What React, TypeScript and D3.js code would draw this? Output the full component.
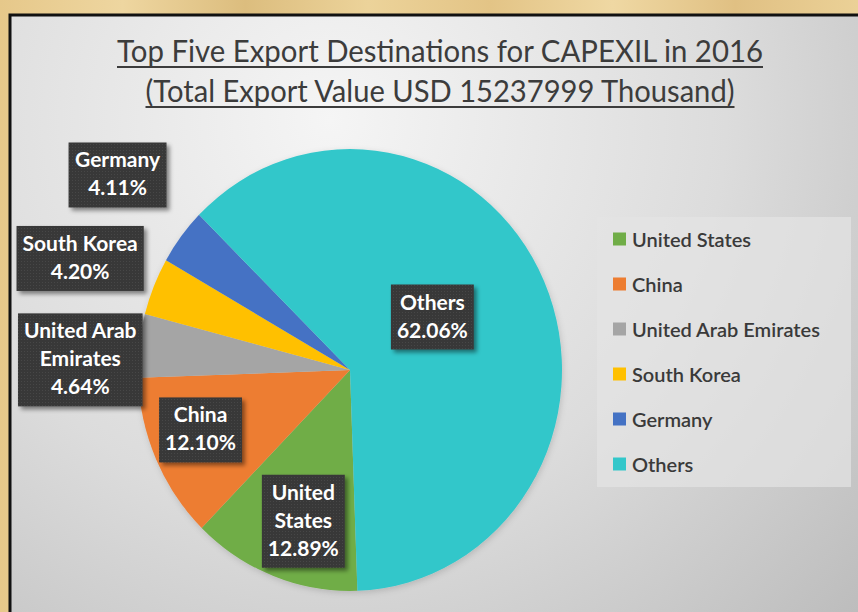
import React, { useEffect, useRef } from "react";
import * as d3 from "d3";

// chart data
const countries = ["United States", "China", "United Arab Emirates", "South Korea", "Germany", "Others"];
const shares = [12.89, 12.1, 4.64, 4.2, 4.11, 62.06];
const sliceColors = ["#70ad47", "#ed7d31", "#a5a5a5", "#ffc000", "#4472c4", "#33c7ca"];
const labelLines = [["United", "States"], ["China"], ["United Arab", "Emirates"], ["South Korea"], ["Germany"], ["Others"]];
const titleLines = ["Top Five Export Destinations for CAPEXIL in 2016", "(Total Export Value USD 15237999 Thousand)"];

// where each data label sits: radius factor along the slice middle + small nudge
const labelPlace = [
  { k: 0.7, dx: 7, dy: 7 },
  { k: 0.75, dx: -4, dy: -7 },
  { k: 1.28, dx: 0, dy: 21 },
  { k: 1.37, dx: -1, dy: 3 },
  { k: 1.4, dx: 4, dy: -8 },
  { k: 0.45, dx: -5, dy: -13 },
];

const W = 858;
const H = 612;

const PieChart = () => {
  const ref = useRef<SVGSVGElement>(null);

  useEffect(() => {
    const svg = d3.select(ref.current);
    svg.selectAll("*").remove();

    const defs = svg.append("defs");

    const bg = defs.append("radialGradient").attr("id", "bg")
      .attr("gradientUnits", "userSpaceOnUse")
      .attr("cx", 330).attr("cy", 120).attr("r", 720);
    bg.append("stop").attr("offset", "0%").attr("stop-color", "#f5f5f5");
    bg.append("stop").attr("offset", "55%").attr("stop-color", "#dcdcdc");
    bg.append("stop").attr("offset", "100%").attr("stop-color", "#bdbdbd");

    const beige = defs.append("linearGradient").attr("id", "beige")
      .attr("x1", 0).attr("x2", 1).attr("y1", 0).attr("y2", 0);
    ["#e6c88a", "#eed6a0", "#dcbd7e", "#ecd39a", "#e3c486", "#efd8a3", "#e0c083", "#ebd197"].forEach((c, i, a) => {
      beige.append("stop").attr("offset", `${(i / (a.length - 1)) * 100}%`).attr("stop-color", c);
    });

    const shadow = defs.append("filter").attr("id", "shadow")
      .attr("x", "-20%").attr("y", "-20%").attr("width", "150%").attr("height", "150%");
    shadow.append("feDropShadow").attr("dx", 3).attr("dy", 3).attr("stdDeviation", 2)
      .attr("flood-color", "#000").attr("flood-opacity", 0.45);

    const pieShadow = defs.append("filter").attr("id", "pieShadow")
      .attr("x", "-10%").attr("y", "-10%").attr("width", "130%").attr("height", "130%");
    pieShadow.append("feDropShadow").attr("dx", 1).attr("dy", 2).attr("stdDeviation", 3)
      .attr("flood-color", "#000").attr("flood-opacity", 0.15);

    const dots = defs.append("pattern").attr("id", "dots")
      .attr("patternUnits", "userSpaceOnUse").attr("width", 3).attr("height", 3);
    dots.append("rect").attr("width", 3).attr("height", 3).attr("fill", "#383838");
    dots.append("rect").attr("width", 1).attr("height", 1).attr("fill", "#474747");

    // outer page + frame
    svg.append("rect").attr("width", W).attr("height", H).attr("fill", "url(#beige)");
    svg.append("rect").attr("x", 10).attr("y", 15).attr("width", W).attr("height", H)
      .attr("fill", "url(#bg)").attr("stroke", "#111").attr("stroke-width", 3);

    // title
    const title = svg.append("g").attr("font-family", "Lato, 'Open Sans', sans-serif").attr("fill", "#3c3c3c");
    const titleWidths = [646, 589];
    titleLines.forEach((t, i) => {
      const y = 62 + i * 40;
      title.append("text")
        .attr("x", 440).attr("y", y)
        .attr("text-anchor", "middle")
        .attr("font-size", 31)
        .attr("textLength", titleWidths[i])
        .attr("lengthAdjust", "spacingAndGlyphs")
        .text(t);
      title.append("line")
        .attr("x1", 440 - titleWidths[i] / 2).attr("x2", 440 + titleWidths[i] / 2)
        .attr("y1", y + 5).attr("y2", y + 5)
        .attr("stroke", "#3c3c3c").attr("stroke-width", 2);
    });

    // pie
    const cx = 350;
    const cy = 370;
    const rx = 212;
    const ry = 221;
    const start = (178 * Math.PI) / 180;
    const pie = d3.pie<number>().sort(null).value((d) => d)
      .startAngle(start).endAngle(start + 2 * Math.PI);
    const arcs = pie(shares);
    const arc = d3.arc<d3.PieArcDatum<number>>().innerRadius(0).outerRadius(rx);

    svg.append("g")
      .attr("transform", `translate(${cx},${cy}) scale(1,${ry / rx})`)
      .attr("filter", "url(#pieShadow)")
      .selectAll("path")
      .data(arcs)
      .enter()
      .append("path")
      .attr("d", arc)
      .attr("fill", (d, i) => sliceColors[i]);

    // data labels
    const labels = svg.append("g").attr("font-family", "Lato, 'Open Sans', sans-serif")
      .attr("font-weight", "bold").attr("font-size", 21);
    arcs.forEach((d, i) => {
      const mid = (d.startAngle + d.endAngle) / 2;
      const p = labelPlace[i];
      const x = cx + Math.sin(mid) * rx * p.k + p.dx;
      const y = cy - Math.cos(mid) * ry * p.k + p.dy;
      const lines = [...labelLines[i], `${shares[i].toFixed(2)}%`];
      const g = labels.append("g");
      const box = g.append("rect").attr("fill", "url(#dots)").attr("filter", "url(#shadow)");
      const lh = 28;
      const h = lines.length * lh + 9;
      const txt = g.append("text").attr("fill", "#fff").attr("text-anchor", "middle");
      lines.forEach((l, j) => {
        txt.append("tspan").attr("x", x).attr("y", y - h / 2 + 25 + j * lh).text(l);
      });
      const w = (txt.node() as SVGTextElement).getBBox().width + 12;
      box.attr("x", x - w / 2).attr("y", y - h / 2).attr("width", w).attr("height", h);
    });

    // legend
    const legend = svg.append("g").attr("font-family", "Lato, 'Open Sans', sans-serif");
    legend.append("rect").attr("x", 597).attr("y", 217).attr("width", 254).attr("height", 270)
      .attr("fill", "#e4e4e4").attr("opacity", 0.7);
    countries.forEach((c, i) => {
      const y = 239 + i * 45;
      legend.append("rect").attr("x", 613).attr("y", y - 6.5).attr("width", 13).attr("height", 13)
        .attr("fill", sliceColors[i]);
      legend.append("text").attr("x", 632).attr("y", y + 7.5)
        .attr("font-size", 20).attr("fill", "#3a3a3a").attr("font-weight", 600)
        .text(c);
    });
  }, []);

  return (
    <svg ref={ref} width={W} height={H}
      style={{ position: "absolute", left: 0, top: 0, display: "block" }} />
  );
};

export default function App() {
  return <PieChart />;
}
